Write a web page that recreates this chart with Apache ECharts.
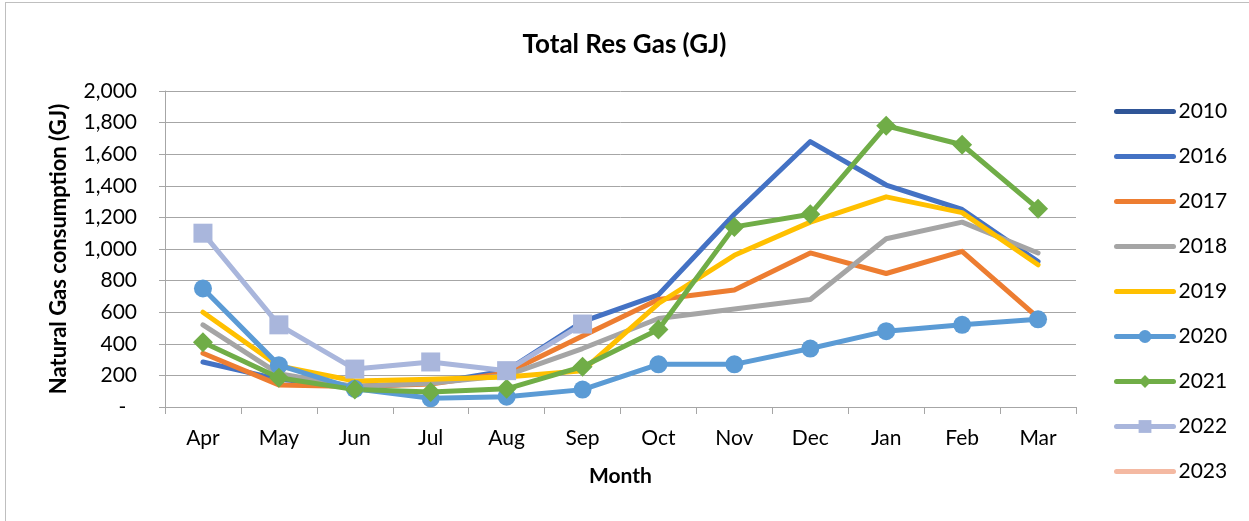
<!DOCTYPE html>
<html>
<head>
<meta charset="utf-8">
<script src="https://cdn.jsdelivr.net/npm/echarts@6/dist/echarts.min.js"></script>
<style>
  html, body { margin: 0; padding: 0; background: #fff; }
  #frame { position: absolute; left: 5px; top: 2px; width: 1250px; height: 525px; border: 1px solid #bfbfbf; box-sizing: border-box; }
  #chart { position: absolute; left: 0; top: 0; width: 1249px; height: 521px; }
</style>
</head>
<body>
<div id="frame"></div>
<div id="chart"></div>
<script>
const months = ["Apr", "May", "Jun", "Jul", "Aug", "Sep", "Oct", "Nov", "Dec", "Jan", "Feb", "Mar"];
const years = ["2010", "2016", "2017", "2018", "2019", "2020", "2021", "2022", "2023"];

// GJ per month (null = no data)
const y2010 = [null, null, null, null, null, null, null, null, null, null, null, null];
const y2016 = [285, 175, 130, 150, 230, 540, 710, 1220, 1680, 1405, 1250, 920];
const y2017 = [340, 140, 130, 145, 215, 450, 680, 740, 975, 845, 985, 565];
const y2018 = [520, 210, 130, 150, 200, 370, 560, 620, 680, 1065, 1170, 975];
const y2019 = [600, 260, 165, 175, 190, 230, 655, 960, 1170, 1330, 1230, 900];
const y2020 = [750, 265, 115, 55, 65, 110, 270, 270, 370, 480, 520, 555];
const y2021 = [410, 185, 110, 95, 115, 255, 490, 1140, 1220, 1780, 1660, 1255];
const y2022 = [1100, 520, 240, 285, 230, 525, null, null, null, null, null, null];
const y2023 = [null, null, null, null, null, null, null, null, null, null, null, null];

const values = [y2010, y2016, y2017, y2018, y2019, y2020, y2021, y2022, y2023];
const colors = ["#2f5597", "#4472c4", "#ed7d31", "#a5a5a5", "#ffc000", "#5b9bd5", "#70ad47", "#a9b6dc", "#f4b9a2"];
const symbols = ["none", "none", "none", "none", "none", "circle", "diamond", "rect", "none"];
const symbolSizes = [0, 0, 0, 0, 0, 18, 20, 19, 0];

const font = "Lato, 'Open Sans', sans-serif";

const myChart = echarts.init(document.getElementById("chart"));

const series = years.map(function (y, i) {
  return {
    name: y,
    type: "line",
    data: values[i],
    symbol: symbols[i],
    symbolSize: symbolSizes[i],
    showSymbol: symbols[i] !== "none",
    color: colors[i],
    lineStyle: { width: 5, color: colors[i], join: "round", cap: "round" },
    itemStyle: { color: colors[i] },
    emphasis: { disabled: true }
  };
});

// legend entries: hide the default dot on series that have no marker
const legendData = years.map(function (y, i) {
  return symbols[i] === "none" ? { name: y, itemStyle: { opacity: 0 } } : { name: y };
});

const option = {
  animation: false,
  textStyle: { fontFamily: font },
  title: {
    text: "Total Res Gas (GJ)",
    left: "center",
    top: 27,
    textStyle: { fontFamily: font, fontSize: 26, fontWeight: "bold", color: "#000" }
  },
  legend: {
    orient: "vertical",
    left: 1114,
    top: 101,
    padding: 0,
    itemWidth: 57,
    itemHeight: 16,
    itemGap: 24,
    data: legendData,
    lineStyle: { width: 5, cap: "round" },
    textStyle: { fontFamily: font, fontSize: 21, color: "#000", padding: [0, 0, 0, 0] }
  },
  grid: { left: 165, right: 173, top: 91, bottom: 114 },
  xAxis: {
    type: "category",
    data: months,
    boundaryGap: true,
    name: "Month",
    nameLocation: "middle",
    nameGap: 59,
    nameTextStyle: { fontFamily: font, fontSize: 21, fontWeight: "bold", color: "#000" },
    axisLine: { lineStyle: { color: "#a6a6a6", width: 1 } },
    axisTick: { show: true, length: 7, lineStyle: { color: "#a6a6a6" } },
    axisLabel: { fontFamily: font, fontSize: 21, color: "#000", margin: 21 }
  },
  yAxis: {
    type: "value",
    min: 0,
    max: 2000,
    interval: 200,
    name: "Natural Gas consumption (GJ)",
    nameLocation: "middle",
    nameGap: 95,
    nameTextStyle: { fontFamily: font, fontSize: 22, fontWeight: "bold", color: "#000" },
    axisLine: { show: true, lineStyle: { color: "#a6a6a6", width: 1 } },
    axisTick: { show: true, length: 6, lineStyle: { color: "#a6a6a6" } },
    splitLine: { lineStyle: { color: "#a6a6a6", width: 1 } },
    axisLabel: {
      fontFamily: font,
      fontSize: 21,
      color: "#000",
      margin: 28,
      formatter: function (v) {
        return v === 0 ? "-  " : v.toLocaleString("en-US");
      }
    }
  },
  series: series
};

myChart.setOption(option);
</script>
</body>
</html>
